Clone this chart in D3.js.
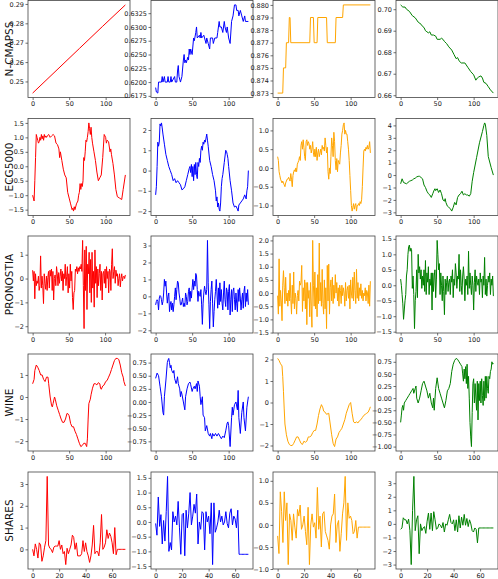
<!DOCTYPE html>
<html><head><meta charset="utf-8">
<script src="https://cdn.jsdelivr.net/npm/d3@7"></script>
<style>body{margin:0;background:#fff}svg{display:block}text{font-family:"DejaVu Sans",sans-serif}</style>
</head><body><svg id="c" width="498" height="579"></svg>
<script>
const datasets = ["N-CMAPSS","ECG5000","PRONOSTIA","WINE","SHARES"];
const colors = ["red","blue","orange","green"];

// ---- N-CMAPSS (x,y pairs) ----
const ncmapssRed = [[0,0.2440],[32,0.2555],[64,0.2670],[96,0.2785],[127,0.2895]];
const ncmapssBlue = [[0,0.619],[1,0.6182],[3,0.618],[4,0.620],[8,0.620],[9,0.621],[10,0.620],[12,0.621],[13,0.620],[16,0.620],[17,0.621],[18,0.620],[20,0.620],[21,0.621],[22,0.620],[26,0.621],[27,0.620],[29,0.620],[30,0.622],[31,0.623],[32,0.621],[34,0.620],[36,0.621],[38,0.624],[39,0.625],[40,0.6235],[41,0.624],[42,0.6235],[44,0.6245],[45,0.624],[46,0.626],[47,0.625],[48,0.626],[50,0.625],[52,0.628],[53,0.6275],[55,0.629],[56,0.630],[57,0.628],[60,0.6285],[61,0.628],[62,0.629],[63,0.628],[66,0.6285],[67,0.628],[69,0.627],[70,0.628],[72,0.627],[74,0.626],[75,0.628],[78,0.628],[79,0.627],[81,0.628],[84,0.628],[85,0.629],[87,0.631],[88,0.630],[90,0.630],[92,0.629],[94,0.631],[95,0.630],[97,0.629],[98,0.630],[100,0.628],[102,0.627],[104,0.631],[106,0.632],[108,0.634],[110,0.634],[111,0.633],[113,0.633],[114,0.632],[116,0.633],[118,0.632],[120,0.631],[122,0.632],[123,0.631],[127,0.631]];
const ncmapssOrange = [[0,0.873],[7,0.873],[8,0.875],[11,0.875],[12,0.877],[15,0.877],[16,0.879],[17,0.879],[18,0.877],[44,0.877],[45,0.879],[49,0.879],[50,0.877],[54,0.877],[55,0.879],[67,0.879],[68,0.877],[79,0.877],[80,0.879],[89,0.879],[90,0.880],[127,0.880]];
const ncmapssGreen = [[0,0.702],[3,0.701],[6,0.701],[8,0.700],[12,0.699],[16,0.697],[20,0.696],[24,0.694],[28,0.693],[30,0.692],[32,0.6915],[34,0.690],[36,0.6895],[38,0.689],[40,0.6895],[42,0.688],[45,0.688],[48,0.6875],[50,0.686],[54,0.686],[56,0.6865],[58,0.686],[60,0.685],[63,0.684],[66,0.6825],[70,0.681],[73,0.679],[76,0.677],[78,0.6775],[80,0.676],[83,0.675],[88,0.675],[92,0.673],[96,0.671],[100,0.6695],[103,0.667],[105,0.668],[107,0.6685],[110,0.669],[112,0.668],[114,0.666],[117,0.6655],[120,0.664],[123,0.6625],[127,0.661]];

// ---- ECG5000 (x,y pairs) ----
const ecgRed = [[0,-1.0],[1,-1.1],[2,-1.2],[3,-0.5],[4,0.3],[5,1.1],[6,1.0],[7,0.9],[8,0.8],[9,0.85],[10,1.0],[11,0.9],[12,1.1],[13,0.95],[14,1.05],[15,0.9],[16,1.1],[17,1.0],[18,1.05],[19,1.0],[20,1.05],[22,1.1],[24,1.0],[26,1.05],[28,1.1],[30,1.05],[32,0.8],[34,0.75],[36,0.6],[37,0.3],[38,0.5],[40,0.2],[42,-0.1],[44,-0.3],[46,-0.4],[48,-0.9],[50,-1.1],[52,-1.3],[54,-1.5],[55,-1.45],[56,-1.55],[57,-1.4],[58,-1.5],[60,-1.3],[62,-1.2],[63,-1.0],[64,-0.9],[65,-0.6],[66,-0.8],[67,-0.6],[68,-0.7],[69,-0.5],[70,0.3],[71,0.2],[72,0.5],[73,0.9],[74,0.85],[75,1.0],[76,1.2],[77,1.5],[78,1.3],[79,1.1],[80,1.35],[81,1.0],[82,0.8],[84,0.5],[86,0.2],[88,-0.2],[90,-0.5],[92,-0.4],[94,-0.3],[96,0.3],[98,1.1],[100,1.0],[101,0.8],[102,0.9],[104,0.85],[106,0.5],[107,0.6],[108,0.4],[110,0.1],[112,-0.3],[114,-0.8],[116,-1.05],[119,-1.1],[122,-1.15],[124,-0.8],[127,-0.3]];
const ecgBlue = [[0,-1.2],[1,-0.8],[2,0.2],[3,1.4],[4,1.2],[5,1.4],[6,2.3],[7,2.2],[8,2.35],[9,2.1],[10,1.8],[12,1.3],[14,0.8],[16,0.5],[18,0.2],[20,0.0],[22,-0.2],[24,-0.5],[26,-0.4],[28,-0.6],[30,-0.5],[32,-0.6],[34,-0.7],[36,-0.95],[38,-0.9],[40,-0.8],[42,-0.5],[44,-0.2],[46,0.1],[47,0.2],[48,-0.1],[49,0.3],[50,-0.3],[51,0.2],[52,-0.5],[53,0.3],[54,-0.2],[55,0.4],[56,-0.2],[57,-0.4],[58,0.4],[59,0.2],[60,0.6],[61,0.4],[62,1.0],[63,1.2],[64,1.0],[65,1.4],[66,1.3],[67,1.5],[68,1.4],[69,1.6],[70,1.8],[71,1.5],[72,1.2],[74,0.5],[76,0.2],[78,-0.2],[80,-0.5],[82,-1.0],[83,-1.5],[84,-1.3],[85,-1.8],[86,-1.6],[87,-1.9],[88,-2.0],[89,-1.6],[90,-0.8],[91,-0.4],[92,-0.2],[94,0.4],[96,1.0],[97,0.95],[98,0.8],[99,0.6],[100,0.2],[102,-0.5],[104,-1.0],[106,-1.6],[108,-1.8],[110,-1.75],[112,-1.9],[113,-2.0],[114,-1.7],[116,-1.6],[118,-1.5],[120,-1.4],[122,-1.2],[124,-1.4],[125,-1.0],[126,-0.8],[127,0.0]];
const ecgOrange = [0.3,0.2,-0.1,-0.2,-0.3,-0.35,-0.4,-0.35,-0.4,-0.45,-0.5,-0.4,-0.35,-0.3,-0.3,-0.25,-0.3,-0.35,-0.15,-0.3,-0.5,-0.2,-0.1,-0.05,-0.1,0.0,-0.1,0.1,0.15,0.2,0.3,0.2,0.6,0.7,0.5,0.75,0.55,0.3,0.2,0.7,0.75,0.6,0.7,0.65,0.5,0.6,0.4,0.5,0.7,0.4,0.3,0.5,0.3,0.55,0.2,0.4,0.5,0.3,0.4,0.5,0.35,0.6,0.5,0.55,0.45,0.8,0.6,0.4,0.55,-0.1,-0.3,0.0,-0.15,0.3,0.8,0.6,0.3,0.95,0.7,0.2,-0.05,0.25,-0.1,0.2,0.15,0.1,0.4,0.6,0.9,1.0,1.15,1.2,0.9,1.0,0.9,0.9,0.7,0.5,0.2,-0.2,-0.6,-1.0,-1.15,-1.05,-0.95,-1.1,-1.0,-0.95,-1.15,-1.0,-1.0,-0.95,-1.0,-0.9,-0.95,-0.85,-0.5,0.0,0.45,0.5,0.45,0.55,0.5,0.6,0.5,0.55,0.7,0.4];
const ecgGreen = [[0,-0.7],[2,-0.3],[4,-0.6],[6,-0.65],[8,-0.7],[10,-0.6],[12,-0.5],[14,-0.45],[16,-0.4],[18,-0.3],[20,-0.25],[22,-0.15],[24,-0.1],[26,-0.1],[28,-0.2],[30,-0.3],[32,-0.8],[34,-1.0],[36,-1.3],[38,-1.5],[40,-1.6],[42,-1.8],[44,-1.5],[46,-1.2],[47,-1.1],[48,-1.25],[50,-1.1],[52,-1.4],[54,-1.2],[56,-1.5],[58,-2.0],[60,-2.1],[61,-1.9],[62,-2.2],[64,-2.5],[66,-2.6],[68,-2.7],[70,-2.9],[72,-2.6],[74,-2.2],[76,-2.4],[78,-1.8],[80,-1.6],[82,-1.5],[84,-1.3],[86,-1.6],[88,-1.5],[90,-1.6],[92,-1.6],[94,-1.7],[96,-1.5],[98,-0.5],[100,0.2],[104,1.4],[108,2.6],[112,3.5],[114,4.0],[115,4.2],[116,4.1],[118,3.2],[120,1.5],[124,0.6],[127,0.0]];

// ---- PRONOSTIA (values, index = x) ----
const pronRed = [0.35,-0.1,0.3,-0.85,0.2,-0.3,-0.1,-0.2,0.1,-0.5,-0.3,0.95,-0.4,0.1,-0.3,-1.05,0.2,-0.2,-0.45,0.1,-0.5,0.05,0.3,-0.4,0.35,0.1,0.4,-0.5,0.3,-0.9,0.0,0.15,-0.3,0.5,0.2,-0.3,0.25,-0.2,0.1,0.4,-0.1,0.3,-0.5,0.2,0.0,0.6,-0.3,0.1,0.5,-0.6,0.2,-0.4,0.6,-0.1,0.3,-0.8,-1.3,-0.6,-0.5,0.4,0.3,0.5,0.2,0.45,0.3,0.5,0.4,0.6,0.3,1.6,-0.3,-2.1,1.2,-0.5,1.35,-1.3,0.6,0.2,1.1,-0.6,0.8,-1.0,1.1,-0.4,0.3,-1.2,1.2,-0.2,0.5,-0.8,0.4,-0.3,0.2,0.6,-0.5,0.3,-0.9,0.2,0.3,-0.2,0.4,-0.4,0.5,0.0,0.3,-0.6,0.4,0.3,-0.5,0.6,1.25,0.0,0.3,0.5,-0.2,0.35,0.1,0.2,-0.3,0.0,0.2,-0.35,0.0,0.2,-0.1,0.05,0.1,0.0,0.15];
const pronBlue = [-0.5,-0.3,-0.2,-0.3,-0.8,-0.1,0.05,0.0,-0.2,-0.5,-0.3,0.2,1.0,0.6,0.9,0.2,-0.4,0.0,0.2,-0.9,-0.5,-0.3,-0.8,-0.4,-0.9,-0.5,0.0,0.5,-0.2,0.4,0.9,0.8,0.2,-0.1,-0.5,-0.5,-0.3,-0.1,-0.6,-0.4,-0.6,0.2,0.0,-0.5,-0.3,0.3,0.5,-0.3,0.3,-0.1,0.5,1.0,0.4,0.9,0.6,1.35,1.2,0.4,-0.3,0.3,0.1,0.0,0.4,-0.5,-1.65,-0.4,0.2,0.6,0.3,0.1,0.4,3.3,0.8,-0.5,-1.9,-0.3,0.4,0.9,-0.4,-1.8,-0.9,-0.2,0.3,1.0,0.2,-0.7,0.5,-0.5,0.8,-0.3,0.4,-0.4,-0.8,0.2,0.9,-0.2,-0.6,0.5,0.3,-0.8,0.3,0.7,-1.1,-0.2,0.4,-0.9,0.3,0.5,-0.2,-0.8,0.2,-0.4,-0.9,0.4,-0.3,0.5,-0.1,-0.8,-0.2,0.2,-0.7,0.3,0.6,-0.6,0.2,-0.3,0.4,-0.5];
const pronOrange = [-0.1,-0.8,1.3,-0.5,0.1,-0.3,-1.05,0.3,0.85,0.2,-0.4,0.6,-0.3,0.0,-0.5,0.1,-0.3,0.75,-0.2,-0.8,0.3,-0.4,0.8,-0.6,0.0,-0.2,-0.8,-0.1,0.1,-0.3,0.45,0.3,0.4,1.05,-0.7,0.2,-0.3,0.5,-0.6,0.4,-1.2,0.4,-0.2,0.1,-0.9,0.4,-0.5,-1.3,2.0,0.3,-0.5,0.8,-0.6,0.2,-0.9,0.7,-0.4,1.9,-0.3,0.4,-0.5,0.9,-0.4,-0.8,0.5,-0.6,0.2,-1.35,1.05,-0.3,1.1,-0.8,0.2,0.5,-0.3,0.6,-0.4,0.3,-0.2,0.7,0.0,0.4,-0.3,0.2,-0.5,0.3,0.1,-0.4,0.3,-0.1,0.2,0.0,-0.5,0.4,-0.3,0.1,0.25,-0.2,0.3,-0.6,0.5,0.0,-0.2,0.6,-0.3,0.8,0.1,-0.4,0.9,-0.2,0.4,-0.3,0.2,-0.1,0.35,-0.2,0.1,-0.3,0.0,-0.1,0.2,-0.3,0.1,0.0,-0.4,0.3,-0.5,0.45];
const pronGreen = [0.2,0.0,-0.3,-0.6,-1.1,-0.8,-0.5,-0.3,0.3,0.5,1.0,1.25,1.3,1.1,1.2,1.15,-0.1,0.3,-0.3,-1.4,-0.5,-0.2,0.5,-0.4,1.0,0.4,0.6,0.2,0.5,-0.1,0.3,0.0,0.5,-0.2,0.8,-0.3,0.4,0.1,0.6,-0.3,0.2,0.0,0.4,-0.8,0.4,-0.2,0.3,0.5,-0.4,0.2,1.45,1.0,0.5,0.7,-0.3,0.4,0.0,-0.5,0.3,-0.2,-0.95,0.2,-0.3,0.1,0.3,-0.2,0.1,0.2,-0.3,0.3,0.1,0.5,-0.4,0.2,0.0,0.7,0.4,-0.1,0.3,0.2,1.0,-0.2,0.5,0.0,-0.3,0.3,0.6,0.2,-0.5,0.2,0.0,0.3,-0.3,1.1,-0.1,0.4,0.0,-0.3,0.3,0.0,-0.8,0.1,0.5,-0.2,0.3,0.1,0.0,0.2,-0.3,0.4,0.1,0.2,-0.4,0.3,0.0,0.9,-0.3,0.2,-0.35,0.0,0.3,0.1,0.4,-0.3,0.2,0.0,0.3,-0.35];

// ---- WINE (x,y pairs) ----
const wineRed = [[0,0.6],[2,0.8],[3,1.2],[5,1.45],[7,1.35],[9,1.2],[11,1.0],[13,1.0],[15,0.8],[17,0.7],[19,0.9],[21,0.9],[22,0.6],[24,0.0],[26,-0.4],[27,-0.45],[28,-0.3],[30,0.0],[31,-0.1],[33,-0.4],[35,-0.6],[37,-0.8],[39,-1.0],[41,-1.15],[43,-1.15],[45,-1.0],[47,-0.75],[48,-0.75],[50,-0.85],[52,-1.2],[54,-1.35],[56,-1.35],[58,-1.55],[60,-1.7],[62,-1.9],[64,-2.1],[66,-2.25],[68,-2.2],[70,-2.1],[72,-2.1],[74,-2.25],[75,-1.9],[76,-1.0],[77,-0.3],[79,-0.1],[80,0.1],[82,0.4],[84,0.6],[86,0.6],[88,0.55],[90,0.65],[92,0.6],[93,0.4],[94,0.35],[96,0.5],[98,0.55],[100,0.7],[102,0.75],[104,0.9],[106,1.05],[108,1.25],[110,1.45],[112,1.65],[114,1.75],[116,1.75],[118,1.7],[120,1.45],[122,1.1],[124,0.9],[125,0.7],[127,0.5]];
const wineBlue = [[0,0.45],[2,0.55],[4,0.5],[6,0.3],[8,0.1],[10,-0.2],[11,-0.25],[12,0.1],[14,0.4],[16,0.75],[17,0.8],[18,0.83],[19,0.75],[20,0.65],[21,0.7],[22,0.6],[24,0.55],[25,0.6],[26,0.45],[28,0.35],[29,0.4],[30,0.48],[31,0.35],[33,0.25],[34,0.1],[35,0.2],[36,0.15],[38,0.0],[40,-0.15],[41,0.1],[43,0.25],[45,0.35],[47,0.38],[48,0.33],[50,0.2],[51,0.25],[53,0.3],[54,0.25],[56,0.35],[57,0.2],[58,0.4],[60,0.3],[61,0.1],[62,-0.05],[64,0.1],[65,-0.25],[67,-0.3],[68,-0.55],[70,-0.45],[72,-0.6],[74,-0.65],[75,-0.6],[77,-0.7],[78,-0.6],[80,-0.65],[82,-0.6],[84,-0.65],[86,-0.6],[88,-0.65],[90,-0.7],[92,-0.65],[94,-0.68],[96,-0.55],[98,-0.4],[99,-0.38],[100,-0.45],[102,-0.85],[104,-0.3],[105,-0.1],[106,-0.25],[108,-0.05],[110,0.0],[112,-0.15],[113,0.22],[114,-0.3],[116,-0.6],[118,-0.2],[120,0.0],[121,-0.3],[123,-0.55],[125,-0.1],[127,0.1]];
const wineOrange = [[0,2.05],[2,1.95],[4,1.8],[6,1.7],[7,1.2],[8,0.5],[9,-0.3],[10,-1.0],[12,-1.5],[14,-1.8],[16,-1.95],[18,-2.0],[20,-2.0],[22,-1.9],[24,-1.75],[26,-1.6],[28,-1.6],[30,-1.75],[32,-1.9],[34,-1.95],[36,-1.8],[38,-1.85],[40,-1.8],[42,-1.6],[44,-1.6],[46,-1.55],[48,-1.4],[50,-1.3],[52,-1.3],[54,-1.0],[56,-0.6],[58,-0.3],[60,-0.1],[62,-0.25],[63,-0.4],[65,-0.45],[67,-0.55],[70,-0.5],[72,-1.0],[74,-1.5],[76,-1.9],[78,-2.05],[80,-1.7],[82,-1.6],[84,-1.4],[86,-1.3],[88,-1.2],[90,-1.0],[92,-0.8],[94,-0.5],[96,-0.3],[98,-0.1],[100,0.0],[102,-0.5],[104,-0.9],[106,-0.95],[108,-0.9],[110,-0.95],[112,-0.85],[114,-0.8],[116,-0.7],[118,-0.6],[120,-0.55],[122,-0.5],[124,-0.45],[126,-0.3],[127,-0.2]];
const wineGreen = [[0,-0.5],[1,-0.35],[2,-0.2],[3,-0.15],[4,-0.25],[5,-0.1],[7,-0.05],[9,0.0],[11,0.05],[13,0.1],[15,0.15],[17,0.2],[18,0.1],[20,0.2],[21,0.25],[22,0.0],[24,-0.1],[26,0.0],[28,0.15],[30,0.3],[32,0.35],[34,0.25],[36,0.15],[38,0.0],[40,0.1],[42,-0.1],[44,-0.2],[45,0.0],[46,-0.25],[48,0.2],[50,0.42],[52,0.2],[54,0.1],[56,0.0],[58,-0.1],[60,-0.2],[62,-0.05],[64,0.15],[66,0.2],[68,0.3],[70,0.55],[72,0.7],[74,0.78],[76,0.82],[78,0.8],[80,0.75],[82,0.7],[84,0.65],[85,0.5],[86,0.35],[87,0.6],[88,0.4],[89,0.65],[90,0.3],[91,0.7],[92,0.2],[93,0.45],[94,0.0],[95,-0.5],[96,-0.8],[97,-1.0],[98,-0.3],[99,0.3],[100,0.4],[101,-0.1],[102,0.3],[104,-0.25],[105,0.35],[106,-0.45],[107,0.3],[108,-0.05],[109,0.35],[110,-0.1],[111,0.4],[112,0.05],[113,-0.15],[114,0.35],[115,-0.05],[116,0.45],[117,0.0],[118,0.45],[119,0.2],[120,0.1],[121,0.45],[122,0.4],[123,0.55],[124,0.6],[125,0.75],[126,0.7],[127,0.72]];

// ---- SHARES (values, index = x) ----
const sharesRed = [0.0,-0.3,0.25,0.0,-0.4,0.3,0.2,-0.55,-0.3,0.1,0.4,3.35,0.2,0.05,0.0,-0.15,0.1,0.15,0.15,0.15,0.4,0.0,0.2,-0.2,-0.1,-0.7,0.05,-0.2,0.0,0.2,0.65,0.55,0.0,0.3,-0.3,-0.3,-0.3,-0.2,0.4,-0.1,0.3,-0.1,-0.3,-0.6,-0.3,0.2,1.1,-0.2,-0.1,-0.1,-0.3,0.3,1.6,0.0,0.1,0.3,0.9,0.5,0.75,0.6,0.3,-0.2,1.0,-0.25,0.0,0.0,0.0,0.0,0.0,0.0,0.0];
const sharesBlue = [-0.05,-0.45,0.85,-0.15,0.25,-0.75,0.05,-0.65,0.35,1.55,-1.0,-0.7,-0.95,0.35,0.0,0.2,-0.1,0.7,-0.2,-1.1,0.25,0.3,-1.15,0.4,-0.2,0.3,1.0,-0.1,0.2,0.6,0.3,0.95,-0.75,0.0,-0.25,0.35,0.3,-0.95,0.35,0.0,0.2,-0.4,0.65,-1.45,0.65,-0.35,-0.2,0.0,0.4,0.0,0.2,-0.1,0.0,0.35,-0.05,-0.2,0.3,0.45,-0.1,0.2,0.1,-0.2,0.4,-1.1,-1.1,-1.1,-1.1,-1.1,-1.1,-1.1,-1.1];
const sharesOrange = [-0.25,-0.65,0.75,0.3,-0.4,0.75,0.1,0.5,-0.9,0.25,0.1,-0.35,0.25,-0.05,-0.3,0.35,0.2,0.45,-0.1,0.0,0.2,-0.15,-0.45,0.4,-0.9,0.0,0.25,-0.05,0.05,-0.3,0.85,-0.1,0.2,-0.5,0.25,0.3,-0.15,-0.25,-0.35,-0.55,0.0,0.2,0.25,0.7,-0.4,0.0,0.1,-0.6,-0.2,0.25,0.5,1.1,-0.35,0.5,0.15,0.2,0.1,-0.2,-0.15,0.1,-0.3,-0.05,-0.05,-0.05,-0.05,-0.05,-0.05,-0.05,-0.05,-0.05,-0.05];
const sharesGreen = [-0.4,-0.3,0.45,0.3,0.3,0.0,0.35,-0.5,-3.0,1.0,3.5,-0.5,0.3,0.6,-2.2,0.0,-0.5,-0.3,-0.2,-0.7,0.2,0.8,-0.4,0.8,-0.5,0.9,0.3,-0.4,-0.3,0.0,-0.1,-0.3,0.1,-0.6,0.0,-0.1,0.3,0.7,0.1,0.0,0.3,-0.5,0.3,-0.6,0.6,-0.3,0.5,-0.1,0.7,-0.1,0.4,-0.2,0.3,0.0,-0.5,-0.6,-0.3,-0.4,-1.4,-0.3,-0.3,-0.3,-0.3,-0.3,-0.3,-0.3,-0.3,-0.3,-0.3,-0.3,-0.3];

// ---- tick labels ----
const xTicksLong = [0, 50, 100];
const xTicksShort = [0, 20, 40, 60];
const yTicks = [
  [[0.25,0.26,0.27,0.28,0.29],[0.6175,0.62,0.6225,0.625,0.6275,0.63,0.6325],[0.873,0.874,0.875,0.876,0.877,0.878,0.879,0.880],[0.66,0.67,0.68,0.69,0.70]],
  [[-1.5,-1.0,-0.5,0,0.5,1.0,1.5],[-2,-1,0,1,2],[-1.0,-0.5,0,0.5,1.0],[-3,-2,-1,0,1,2,3,4]],
  [[-2,-1,0,1],[-2,-1,0,1,2,3],[-1.5,-1.0,-0.5,0,0.5,1.0,1.5,2.0],[-1.5,-1.0,-0.5,0,0.5,1.0,1.5]],
  [[-2,-1,0,1],[-0.75,-0.5,-0.25,0,0.25,0.5,0.75],[-2,-1,0,1,2],[-1.0,-0.75,-0.5,-0.25,0,0.25,0.5,0.75]],
  [[0,1,2,3],[-1.5,-1.0,-0.5,0,0.5,1.0,1.5],[-1.0,-0.5,0,0.5,1.0],[-3,-2,-1,0,1,2,3]]
];
const yDecimals = [[2,4,3,2],[1,0,1,0],[0,0,1,1],[0,2,0,2],[0,1,1,0]];

const series = [
  [ncmapssRed, ncmapssBlue, ncmapssOrange, ncmapssGreen],
  [ecgRed, ecgBlue, ecgOrange, ecgGreen],
  [pronRed, pronBlue, pronOrange, pronGreen],
  [wineRed, wineBlue, wineOrange, wineGreen],
  [sharesRed, sharesBlue, sharesOrange, sharesGreen]
];

// ---- layout ----
const colLeft = [28, 151, 273, 396], panelW = 102;
const rowTop = [0.5, 118.5, 236, 354, 472], panelH = 97;

const svg = d3.select("#c");
const pts = arr => arr.map((d, i) => Array.isArray(d) ? d : [i, d]);
const pad = ([a, b]) => { const m = (b - a) * 0.05; return [a - m, b + m]; };

series.forEach((row, r) => {
  svg.append("text")
    .attr("transform", `translate(8.5,${rowTop[r] + panelH / 2}) rotate(-90)`)
    .attr("text-anchor", "middle").attr("dominant-baseline", "central")
    .attr("font-size", 10.5).attr("fill", "#111").text(datasets[r]);
  row.forEach((raw, c) => {
    const data = pts(raw);
    const x0 = colLeft[c], y0 = rowTop[r];
    const x = d3.scaleLinear().domain(pad(d3.extent(data, d => d[0]))).range([x0, x0 + panelW]);
    const y = d3.scaleLinear().domain(pad(d3.extent(data, d => d[1]))).range([y0 + panelH, y0]);
    const g = svg.append("g");
    const fmt = d3.format(`.${yDecimals[r][c]}f`);
    const ax = g.append("g").attr("transform", `translate(0,${y0 + panelH})`)
      .call(d3.axisBottom(x).tickValues(r === 4 ? xTicksShort : xTicksLong).tickSize(2.5).tickPadding(1.5).tickFormat(d3.format("d")));
    const ay = g.append("g").attr("transform", `translate(${x0},0)`)
      .call(d3.axisLeft(y).tickValues(yTicks[r][c]).tickSize(2.5).tickPadding(1.5).tickFormat(fmt));
    [ax, ay].forEach(a => {
      a.select(".domain").remove();
      a.selectAll("text").attr("font-size", 6.5).attr("fill", "#222").attr("font-family", '"DejaVu Sans",sans-serif');
      a.selectAll("line").attr("stroke", "#333").attr("stroke-width", 0.7);
    });
    g.append("path").datum(data)
      .attr("fill", "none").attr("stroke", colors[c]).attr("stroke-width", 1)
      .attr("stroke-linejoin", "round")
      .attr("d", d3.line().x(d => x(d[0])).y(d => y(d[1])));
    g.append("rect").attr("x", x0).attr("y", y0).attr("width", panelW).attr("height", panelH)
      .attr("fill", "none").attr("stroke", "#444").attr("stroke-width", 0.8);
  });
});
</script></body></html>
